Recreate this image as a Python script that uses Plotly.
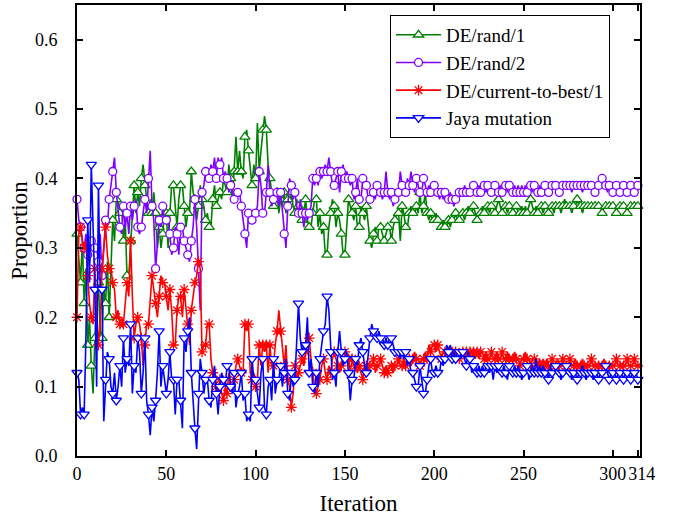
import plotly.graph_objects as go

series_names = ["DE/rand/1", "DE/rand/2", "DE/current-to-best/1", "Jaya mutation"]

de_rand_1 = [
    0.32, 0.29, 0.25, 0.31, 0.22, 0.27, 0.16, 0.20, 0.13, 0.09,
    0.17, 0.21, 0.25, 0.18, 0.17, 0.24, 0.22, 0.28, 0.20, 0.27,
    0.34, 0.31, 0.37, 0.37, 0.35, 0.36, 0.31, 0.34, 0.26, 0.26,
    0.31, 0.36, 0.39, 0.35, 0.38, 0.36, 0.40, 0.42, 0.39, 0.37,
    0.35, 0.37, 0.35, 0.38, 0.35, 0.30, 0.33, 0.30, 0.32, 0.36,
    0.35, 0.30, 0.35, 0.39, 0.39, 0.36, 0.33, 0.37, 0.39, 0.39,
    0.36, 0.33, 0.35, 0.35, 0.41, 0.38, 0.37, 0.34, 0.36, 0.39,
    0.37, 0.36, 0.34, 0.35, 0.33, 0.33, 0.37, 0.39, 0.36, 0.37,
    0.38, 0.37, 0.40, 0.39, 0.38, 0.42, 0.40, 0.37, 0.41, 0.46,
    0.41, 0.44, 0.41, 0.40, 0.46, 0.47, 0.44, 0.41, 0.39, 0.42,
    0.40, 0.48, 0.41, 0.44, 0.47, 0.49, 0.47, 0.42, 0.40, 0.38,
    0.36, 0.36, 0.38, 0.35, 0.37, 0.36, 0.38, 0.35, 0.37, 0.36,
    0.38, 0.36, 0.35, 0.37, 0.36, 0.36, 0.34, 0.35, 0.37, 0.34,
    0.33, 0.33, 0.35, 0.37, 0.37, 0.33, 0.35, 0.32, 0.33, 0.29,
    0.29, 0.33, 0.35, 0.37, 0.36, 0.33, 0.35, 0.34, 0.32, 0.29,
    0.29, 0.33, 0.37, 0.36, 0.35, 0.34, 0.36, 0.33, 0.33, 0.36,
    0.35, 0.34, 0.36, 0.33, 0.31, 0.30, 0.32, 0.33, 0.31, 0.33,
    0.33, 0.32, 0.31, 0.32, 0.33, 0.33, 0.31, 0.33, 0.34, 0.35,
    0.35, 0.31, 0.36, 0.35, 0.33, 0.33, 0.35, 0.36, 0.35, 0.35,
    0.36, 0.35, 0.38, 0.35, 0.36, 0.38, 0.35, 0.34, 0.35, 0.34,
    0.34, 0.35, 0.34, 0.34, 0.33, 0.34, 0.33, 0.33, 0.34, 0.33,
    0.34, 0.34, 0.35, 0.34, 0.34, 0.35, 0.35, 0.34, 0.35, 0.36,
    0.35, 0.35, 0.36, 0.35, 0.34, 0.35, 0.35, 0.36, 0.35, 0.35,
    0.36, 0.35, 0.36, 0.36, 0.35, 0.36, 0.37, 0.36, 0.35, 0.36,
    0.36, 0.35, 0.36, 0.36, 0.35, 0.36, 0.36, 0.35, 0.35, 0.36,
    0.35, 0.36, 0.35, 0.36, 0.37, 0.36, 0.35, 0.36, 0.35, 0.36,
    0.36, 0.35, 0.36, 0.36, 0.35, 0.36, 0.36, 0.35, 0.36, 0.36,
    0.36, 0.35, 0.36, 0.37, 0.36, 0.36, 0.36, 0.35, 0.36, 0.36,
    0.37, 0.36, 0.36, 0.35, 0.36, 0.36, 0.36, 0.36, 0.36, 0.36,
    0.36, 0.36, 0.36, 0.36, 0.35, 0.36, 0.36, 0.36, 0.36, 0.36,
    0.36, 0.36, 0.35, 0.36, 0.36, 0.36, 0.36, 0.36, 0.35, 0.36,
    0.36, 0.36, 0.36, 0.36, 0.36,
]

de_rand_2 = [
    0.37, 0.34, 0.33, 0.31, 0.30, 0.32, 0.29, 0.28, 0.31, 0.30,
    0.30, 0.30, 0.28, 0.32, 0.26, 0.31, 0.34, 0.33, 0.37, 0.39,
    0.41, 0.43, 0.38, 0.35, 0.33, 0.32, 0.36, 0.33, 0.35, 0.32,
    0.36, 0.34, 0.36, 0.37, 0.33, 0.32, 0.33, 0.35, 0.37, 0.35,
    0.40, 0.44, 0.36, 0.34, 0.27, 0.31, 0.34, 0.33, 0.36, 0.34,
    0.34, 0.34, 0.32, 0.29, 0.30, 0.33, 0.32, 0.29, 0.33, 0.33,
    0.31, 0.30, 0.29, 0.28, 0.31, 0.33, 0.37, 0.33, 0.27, 0.21,
    0.38, 0.39, 0.41, 0.41, 0.40, 0.42, 0.41, 0.43, 0.40, 0.43,
    0.42, 0.43, 0.40, 0.41, 0.40, 0.38, 0.39, 0.38, 0.37, 0.38,
    0.38, 0.38, 0.36, 0.34, 0.32, 0.30, 0.35, 0.35, 0.34, 0.35,
    0.35, 0.36, 0.41, 0.39, 0.35, 0.35, 0.38, 0.42, 0.38, 0.36,
    0.37, 0.38, 0.38, 0.36, 0.38, 0.35, 0.32, 0.30, 0.36, 0.40,
    0.39, 0.37, 0.38, 0.36, 0.35, 0.37, 0.35, 0.33, 0.35, 0.34,
    0.35, 0.36, 0.40, 0.39, 0.40, 0.39, 0.41, 0.40, 0.41, 0.42,
    0.41, 0.43, 0.41, 0.39, 0.39, 0.40, 0.41, 0.38, 0.41, 0.42,
    0.40, 0.41, 0.40, 0.39, 0.40, 0.37, 0.38, 0.40, 0.37, 0.37,
    0.40, 0.39, 0.39, 0.37, 0.37, 0.38, 0.38, 0.37, 0.39, 0.38,
    0.38, 0.37, 0.38, 0.41, 0.38, 0.37, 0.38, 0.36, 0.37, 0.38,
    0.38, 0.41, 0.39, 0.38, 0.38, 0.40, 0.39, 0.41, 0.39, 0.38,
    0.40, 0.39, 0.38, 0.38, 0.40, 0.39, 0.38, 0.39, 0.38, 0.38,
    0.39, 0.38, 0.38, 0.37, 0.38, 0.37, 0.38, 0.38, 0.37, 0.38,
    0.37, 0.36, 0.37, 0.38, 0.38, 0.38, 0.38, 0.39, 0.38, 0.38,
    0.38, 0.38, 0.39, 0.38, 0.38, 0.39, 0.38, 0.38, 0.39, 0.38,
    0.39, 0.38, 0.38, 0.39, 0.39, 0.38, 0.38, 0.39, 0.38, 0.39,
    0.39, 0.38, 0.39, 0.38, 0.38, 0.39, 0.38, 0.39, 0.38, 0.39,
    0.38, 0.39, 0.38, 0.39, 0.39, 0.38, 0.39, 0.38, 0.38, 0.39,
    0.38, 0.39, 0.39, 0.39, 0.38, 0.39, 0.39, 0.39, 0.39, 0.39,
    0.38, 0.39, 0.39, 0.39, 0.39, 0.39, 0.39, 0.38, 0.39, 0.39,
    0.39, 0.39, 0.39, 0.38, 0.39, 0.39, 0.39, 0.39, 0.39, 0.39,
    0.38, 0.39, 0.39, 0.39, 0.40, 0.39, 0.39, 0.38, 0.39, 0.39,
    0.38, 0.39, 0.39, 0.39, 0.38, 0.39, 0.39, 0.39, 0.38, 0.39,
    0.39, 0.39, 0.38, 0.39, 0.39,
]

de_current_to_best_1 = [
    0.20, 0.32, 0.33, 0.31, 0.30, 0.31, 0.26, 0.22, 0.20, 0.19,
    0.27, 0.21, 0.16, 0.19, 0.27, 0.30, 0.33, 0.29, 0.27, 0.27,
    0.25, 0.24, 0.20, 0.21, 0.19, 0.20, 0.19, 0.22, 0.25, 0.23,
    0.31, 0.23, 0.17, 0.19, 0.20, 0.19, 0.17, 0.13, 0.16, 0.19,
    0.19, 0.22, 0.26, 0.24, 0.22, 0.20, 0.23, 0.26, 0.25, 0.25,
    0.23, 0.21, 0.24, 0.21, 0.16, 0.16, 0.21, 0.23, 0.23, 0.20,
    0.24, 0.21, 0.19, 0.16, 0.21, 0.23, 0.25, 0.26, 0.28, 0.27,
    0.15, 0.16, 0.16, 0.19, 0.19, 0.14, 0.12, 0.11, 0.10, 0.09,
    0.11, 0.09, 0.08, 0.10, 0.09, 0.12, 0.10, 0.10, 0.11, 0.13,
    0.14, 0.13, 0.12, 0.12, 0.19, 0.18, 0.19, 0.12, 0.11, 0.12,
    0.10, 0.11, 0.16, 0.13, 0.16, 0.15, 0.16, 0.12, 0.16, 0.13,
    0.13, 0.16, 0.18, 0.21, 0.18, 0.16, 0.13, 0.16, 0.11, 0.10,
    0.07, 0.09, 0.13, 0.11, 0.12, 0.13, 0.14, 0.13, 0.15, 0.18,
    0.17, 0.14, 0.12, 0.10, 0.09, 0.10, 0.11, 0.13, 0.14, 0.12,
    0.11, 0.13, 0.12, 0.14, 0.15, 0.14, 0.13, 0.12, 0.13, 0.13,
    0.15, 0.14, 0.14, 0.12, 0.14, 0.13, 0.13, 0.12, 0.13, 0.12,
    0.11, 0.13, 0.13, 0.12, 0.13, 0.13, 0.14, 0.12, 0.13, 0.13,
    0.14, 0.13, 0.12, 0.13, 0.12, 0.13, 0.13, 0.12, 0.13, 0.13,
    0.14, 0.13, 0.13, 0.14, 0.13, 0.14, 0.14, 0.13, 0.14, 0.15,
    0.14, 0.14, 0.13, 0.14, 0.14, 0.15, 0.14, 0.16, 0.15, 0.16,
    0.16, 0.15, 0.16, 0.15, 0.14, 0.15, 0.15, 0.14, 0.15, 0.14,
    0.15, 0.14, 0.15, 0.15, 0.14, 0.15, 0.15, 0.14, 0.15, 0.14,
    0.15, 0.14, 0.15, 0.14, 0.15, 0.14, 0.15, 0.15, 0.14, 0.15,
    0.14, 0.14, 0.15, 0.14, 0.14, 0.15, 0.14, 0.14, 0.15, 0.14,
    0.14, 0.15, 0.14, 0.14, 0.14, 0.15, 0.14, 0.14, 0.13, 0.14,
    0.14, 0.15, 0.14, 0.14, 0.13, 0.14, 0.14, 0.14, 0.13, 0.14,
    0.13, 0.14, 0.13, 0.14, 0.13, 0.13, 0.14, 0.13, 0.13, 0.14,
    0.13, 0.13, 0.14, 0.13, 0.13, 0.13, 0.14, 0.13, 0.13, 0.14,
    0.13, 0.13, 0.13, 0.14, 0.13, 0.13, 0.13, 0.13, 0.14, 0.13,
    0.13, 0.13, 0.13, 0.13, 0.13, 0.14, 0.13, 0.13, 0.13, 0.13,
    0.13, 0.13, 0.14, 0.13, 0.13, 0.13, 0.13, 0.13, 0.14, 0.13,
    0.13, 0.13, 0.14, 0.13, 0.13,
]

jaya_mutation = [
    0.12, 0.11, 0.06, 0.07, 0.06, 0.17, 0.34, 0.25, 0.42, 0.33,
    0.24, 0.10, 0.39, 0.24, 0.24, 0.05, 0.11, 0.15, 0.14, 0.10,
    0.09, 0.12, 0.08, 0.10, 0.13, 0.10, 0.17, 0.12, 0.14, 0.13,
    0.19, 0.09, 0.13, 0.12, 0.17, 0.15, 0.09, 0.12, 0.17, 0.08,
    0.06, 0.03, 0.07, 0.05, 0.08, 0.12, 0.18, 0.10, 0.13, 0.11,
    0.09, 0.11, 0.15, 0.11, 0.11, 0.06, 0.11, 0.11, 0.08, 0.04,
    0.17, 0.15, 0.18, 0.20, 0.12, 0.07, 0.04, 0.01, 0.09, 0.14,
    0.12, 0.09, 0.11, 0.11, 0.08, 0.07, 0.11, 0.13, 0.09, 0.06,
    0.10, 0.12, 0.11, 0.10, 0.13, 0.13, 0.10, 0.09, 0.12, 0.07,
    0.09, 0.10, 0.12, 0.08, 0.09, 0.05, 0.06, 0.05, 0.14, 0.11,
    0.11, 0.09, 0.07, 0.12, 0.14, 0.07, 0.06, 0.10, 0.11, 0.08,
    0.14, 0.09, 0.11, 0.11, 0.13, 0.10, 0.12, 0.14, 0.09, 0.08,
    0.12, 0.10, 0.11, 0.16, 0.22, 0.17, 0.15, 0.16, 0.16, 0.20,
    0.12, 0.14, 0.10, 0.09, 0.12, 0.10, 0.14, 0.16, 0.18, 0.19,
    0.23, 0.21, 0.15, 0.11, 0.12, 0.10, 0.15, 0.18, 0.15, 0.13,
    0.14, 0.15, 0.12, 0.08, 0.11, 0.11, 0.14, 0.13, 0.16, 0.17,
    0.15, 0.13, 0.12, 0.15, 0.17, 0.19, 0.18, 0.18, 0.17, 0.18,
    0.17, 0.17, 0.16, 0.17, 0.16, 0.17, 0.17, 0.16, 0.15, 0.15,
    0.15, 0.14, 0.15, 0.14, 0.15, 0.13, 0.14, 0.12, 0.12, 0.11,
    0.10, 0.10, 0.13, 0.11, 0.09, 0.09, 0.11, 0.13, 0.14, 0.12,
    0.12, 0.13, 0.12, 0.12, 0.14, 0.13, 0.14, 0.16, 0.15, 0.16,
    0.14, 0.15, 0.14, 0.15, 0.15, 0.14, 0.15, 0.14, 0.13, 0.15,
    0.14, 0.12, 0.13, 0.13, 0.12, 0.13, 0.12, 0.13, 0.12, 0.13,
    0.13, 0.12, 0.13, 0.11, 0.13, 0.12, 0.13, 0.12, 0.12, 0.13,
    0.12, 0.11, 0.13, 0.12, 0.12, 0.13, 0.12, 0.13, 0.12, 0.11,
    0.12, 0.12, 0.13, 0.11, 0.12, 0.13, 0.12, 0.14, 0.12, 0.13,
    0.12, 0.13, 0.12, 0.12, 0.11, 0.13, 0.12, 0.12, 0.13, 0.12,
    0.12, 0.11, 0.12, 0.12, 0.13, 0.12, 0.12, 0.11, 0.12, 0.12,
    0.11, 0.12, 0.12, 0.13, 0.12, 0.11, 0.12, 0.12, 0.12, 0.11,
    0.12, 0.12, 0.11, 0.12, 0.12, 0.12, 0.13, 0.12, 0.11, 0.12,
    0.12, 0.12, 0.11, 0.12, 0.12, 0.12, 0.11, 0.12, 0.12, 0.12,
    0.11, 0.12, 0.12, 0.12, 0.11,
]

x_tick_values = [0, 50, 100, 150, 200, 250, 300, 314]
x_tick_labels = ["0", "50", "100", "150", "200", "250", "300", ""]
x_end_tick_value = [314]
x_end_tick_label = ["314"]
y_tick_values = [0.0, 0.1, 0.2, 0.3, 0.4, 0.5, 0.6]

colors = ["#008000", "#8000FF", "#FF0000", "#0000FF"]
symbols = ["triangle-up", "circle", "asterisk-open", "triangle-down"]
marker_sizes = [9, 8, 9, 9]
x_axis_refs = ["x", "x", "x", "x2"]  # last series drawn on the overlaying axis (on top, carries the "314" label)
MARKER_STEP = 2
FONT = "Liberation Serif, Times New Roman, serif"
X_RANGE = [0, 315.2]

fig = go.Figure()
all_series = [de_rand_1, de_rand_2, de_current_to_best_1, jaya_mutation]

for name, values, color, symbol, msize, xref in zip(series_names, all_series, colors, symbols,
                                                     marker_sizes, x_axis_refs):
    iters = list(range(len(values)))
    is_star = symbol.startswith("asterisk")
    marker = dict(symbol=symbol, size=msize,
                  color=color if is_star else "white",
                  line=dict(color=color, width=1.3))
    fig.add_trace(go.Scatter(x=iters, y=values, mode="lines", xaxis=xref,
                             line=dict(color=color, width=1.6),
                             showlegend=False, hoverinfo="skip"))
    fig.add_trace(go.Scatter(x=iters[::MARKER_STEP], y=values[::MARKER_STEP], mode="markers",
                             xaxis=xref, marker=marker, showlegend=False, cliponaxis=False))
    fig.add_trace(go.Scatter(x=[None], y=[None], mode="lines+markers", name=name,
                             line=dict(color=color, width=1.6), marker=marker))

tick_font = dict(family=FONT, size=18, color="black")
axis_common = dict(
    showline=True, linecolor="black", linewidth=2, mirror="ticks",
    ticks="inside", ticklen=6, tickwidth=1.5, tickcolor="black",
    showgrid=False, zeroline=False, automargin=False, tickangle=0,
    tickfont=tick_font,
)

fig.update_layout(
    width=676, height=520,
    margin=dict(l=77, r=36, t=5, b=64),
    paper_bgcolor="white", plot_bgcolor="white",
    font=dict(family=FONT, color="black"),
    xaxis=dict(range=X_RANGE, tickvals=x_tick_values, ticktext=x_tick_labels,
               ticklabelstandoff=0,
               title=dict(text="Iteration", font=dict(family=FONT, size=23), standoff=12),
               **axis_common),
    xaxis2=dict(range=X_RANGE, overlaying="x", side="bottom", anchor="y",
                tickvals=x_end_tick_value, ticktext=x_end_tick_label,
                showline=True, linecolor="rgba(0,0,0,0)", linewidth=2, mirror=False,
                ticks="inside", ticklen=6, tickwidth=1.5, tickcolor="rgba(0,0,0,0)",
                showgrid=False, zeroline=False,
                automargin=False, tickangle=0, tickfont=tick_font,
                ticklabelstandoff=0, ticklabelshift=4),
    yaxis=dict(range=[0, 0.65], tickvals=y_tick_values, tickformat=".1f",
               ticklabelstandoff=14,
               title=dict(text="Proportion", font=dict(family=FONT, size=23), standoff=1),
               **axis_common),
    legend=dict(x=0.556, y=0.978, xanchor="left", yanchor="top",
                bgcolor="white", bordercolor="black", borderwidth=1,
                font=dict(family=FONT, size=19), itemwidth=45, tracegroupgap=0),
)

fig.write_html("out.html")
